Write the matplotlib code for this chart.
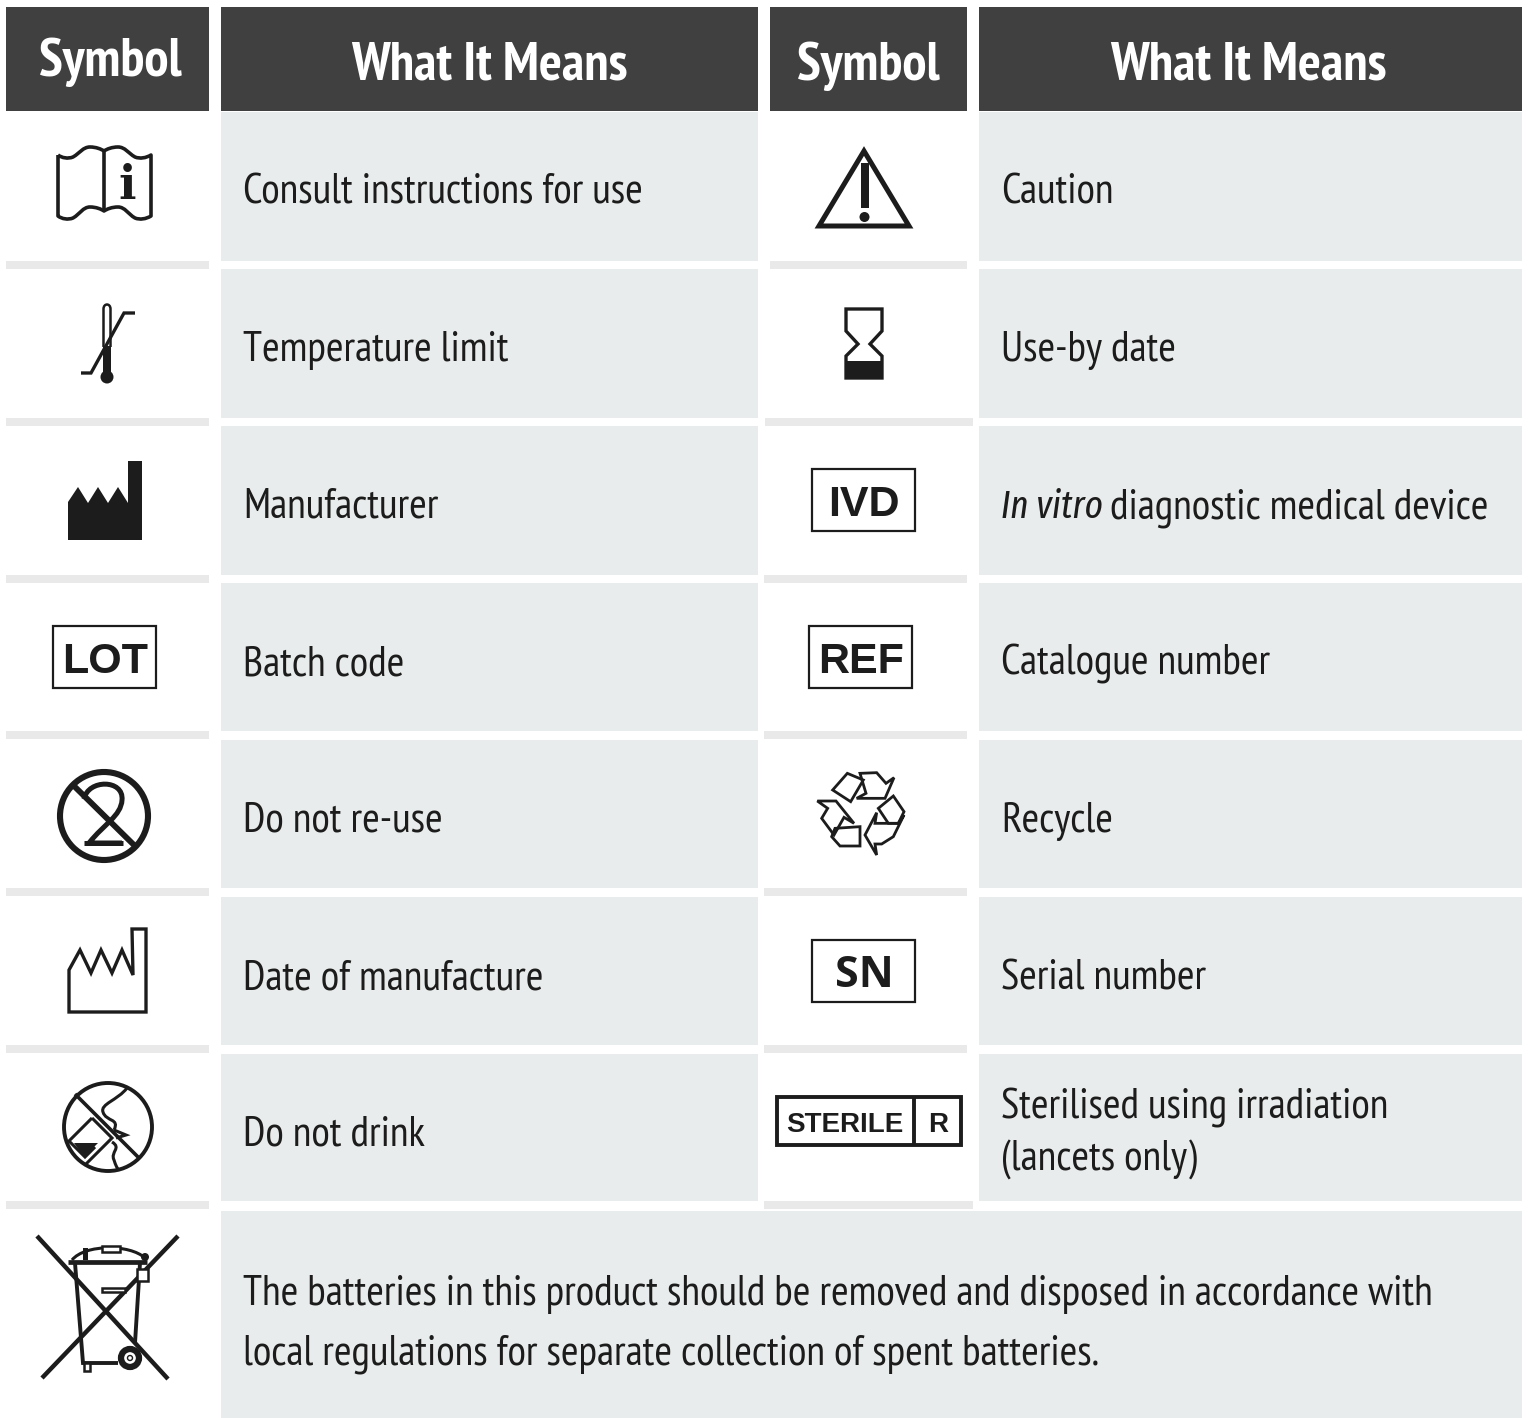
import matplotlib
matplotlib.use('Agg')
from matplotlib import pyplot as plt
from matplotlib.patches import Rectangle, Circle, Polygon, PathPatch
from matplotlib.path import Path

left_labels = ['Consult instructions for use', 'Temperature limit', 'Manufacturer', 'Batch code',
               'Do not re-use', 'Date of manufacture', 'Do not drink']
right_labels = ['Caution', 'Use-by date', None, 'Catalogue number', 'Recycle', 'Serial number', None]
headers = ['Symbol', 'What It Means', 'Symbol', 'What It Means']
row_tops = [112, 269, 426, 583, 740, 897, 1054]
row_bottoms = [261, 418, 575, 731, 888, 1045, 1201]
baselines = [204, 361, 518, 675, 832, 989, 1145]
ink = '#1c1c1c'
grey = '#e9ecec'
sep = '#e9e9e9'
narrow = ['PT Sans Narrow', 'DejaVu Sans']
italic = ['Fira Sans Extra Condensed', 'DejaVu Sans']
fs = 30.6

fig = plt.figure(figsize=(15.28, 14.18), dpi=100)
ax = fig.add_axes([0, 0, 1, 1])
ax.set_xlim(0, 1528)
ax.set_ylim(1418, 0)
ax.axis('off')


def box(x0, y0, x1, y1, color):
    ax.add_patch(Rectangle((x0, y0), x1 - x0, y1 - y0, fc=color, ec='none'))


def line(pts, lw=3.0, color=ink, closed=False, fill=None, join='miter'):
    ax.add_patch(Polygon(pts, closed=closed, fc=fill if fill else 'none', ec=color, lw=lw, joinstyle=join))


def curve(verts, codes, lw=3.0, fill='none'):
    ax.add_patch(PathPatch(Path(verts, codes), fc=fill, ec=ink, lw=lw, joinstyle='round'))


# header
box(6, 7, 209, 111, '#404040')
box(221, 7, 758, 111, '#404040')
box(770, 7, 967, 111, '#404040')
box(979, 7, 1522, 111, '#404040')
for h, x, y in zip(headers, [110, 489, 868, 1248], [76, 80, 80, 80]):
    ax.text(x, y, h, color='white', fontsize=39, fontweight='bold', family=narrow, ha='center', va='baseline')

# body cells and separators
sep_left = [770, 765, 764, 764, 764, 764, 764]
sep_right = [967, 973, 967, 967, 967, 967, 973]
for i in range(7):
    box(221, row_tops[i], 758, row_bottoms[i], grey)
    box(979, row_tops[i], 1522, row_bottoms[i], grey)
    box(6, row_bottoms[i], 209, row_bottoms[i] + 8, sep)
    box(sep_left[i], row_bottoms[i], sep_right[i], row_bottoms[i] + 8, sep)
box(221, 1211, 1522, 1418, grey)

for lab, y in zip(left_labels, baselines):
    ax.text(243, y, lab, color=ink, fontsize=fs, family=narrow, va='baseline')
for lab, y in zip(right_labels, baselines):
    if lab:
        ax.text(1001, y, lab, color=ink, fontsize=fs, family=narrow, va='baseline')
ax.text(1001, 518, 'In vitro', color=ink, fontsize=27.5, family=italic, style='italic', va='baseline')
ax.text(1110, 518, 'diagnostic medical device', color=ink, fontsize=fs, family=narrow, va='baseline')
ax.text(1001, 1118, 'Sterilised using irradiation', color=ink, fontsize=fs, family=narrow, va='baseline')
ax.text(1001, 1171, '(lancets only)', color=ink, fontsize=fs, family=narrow, va='baseline')
ax.text(243, 1305, 'The batteries in this product should be removed and disposed in accordance with',
        color=ink, fontsize=fs, family=narrow, va='baseline')
ax.text(243, 1364, 'local regulations for separate collection of spent batteries.',
        color=ink, fontsize=fs, family=narrow, va='baseline')

M, C, L = Path.MOVETO, Path.CURVE4, Path.LINETO
# book
curve([(58, 155), (62, 158), (68, 159), (73, 157), (80, 153), (83, 147), (90, 147), (96, 147), (101, 149), (104, 151),
       (107, 149), (112, 147), (118, 147), (125, 147), (128, 153), (135, 157), (140, 159), (146, 158), (151, 155),
       (151, 216),
       (146, 219), (140, 220), (135, 218), (128, 214), (125, 207), (118, 207), (112, 207), (107, 209), (104, 211),
       (101, 209), (96, 207), (90, 207), (83, 207), (80, 214), (73, 218), (68, 220), (62, 219), (58, 216), (58, 155)],
      [M] + [C] * 18 + [L] + [C] * 18 + [L], lw=2.6)
line([(104, 150), (104, 211)], lw=2.6)
ax.text(127, 199, 'i', color=ink, fontsize=33, fontweight='bold', family='DejaVu Serif', ha='center', va='baseline')

# thermometer
line([(81, 373), (91, 373), (124, 313), (135, 313)], lw=2.4)
curve([(103.5, 347), (103.5, 309), (103.5, 303), (110.5, 303), (110.5, 309), (110.5, 347)], [M, L, C, C, C, L], lw=1.8)
box(103, 346, 111, 378, ink)
ax.add_patch(Circle((107, 377), 6.5, fc=ink, ec='none'))

# factories
line([(68, 540), (68, 502), (78, 487), (88, 503), (98, 487), (108, 503), (118, 487), (128, 503), (128, 461),
      (142, 461), (142, 540)], lw=0, closed=True, fill=ink)
line([(69, 970), (80, 950), (91, 973), (101, 950), (112, 973), (122, 950), (133, 975), (132, 929), (146, 929),
      (146, 1012), (69, 1012)], lw=2.4, closed=True)

# boxed codes
for x0, y0, x1, y1, t, fsz, fam in [(53, 626, 156, 688, 'LOT', 31, 'Liberation Sans'),
                                    (809, 626, 912, 688, 'REF', 31, 'Liberation Sans'),
                                    (812, 469, 915, 531, 'IVD', 31, 'Liberation Sans'),
                                    (812, 940, 915, 1002, 'SN', 31, 'Open Sans')]:
    ax.add_patch(Rectangle((x0, y0), x1 - x0, y1 - y0, fc='none', ec=ink, lw=1.6))
    ax.text((x0 + x1) / 2 + 0.5, (y0 + y1) / 2 + 16, t, color=ink, fontsize=fsz, fontweight='bold', family=fam,
            ha='center', va='baseline')

ax.add_patch(Rectangle((777, 1097), 184, 48, fc='none', ec=ink, lw=2.8))
line([(914, 1097), (914, 1145)], lw=2.8)
ax.text(845, 1132, 'STERILE', color=ink, fontsize=20, fontweight='bold', family='Liberation Sans', ha='center', va='baseline')
ax.text(938, 1132, 'R', color=ink, fontsize=20, fontweight='bold', family='Liberation Sans', ha='center', va='baseline')

# do not re-use
ax.add_patch(Circle((104, 816), 44, fc='none', ec=ink, lw=4.4))
line([(72, 784), (135, 846)], lw=4.2)
curve([(84, 799), (88, 779), (124, 779), (122, 800), (121, 816), (104, 824), (89, 843), (122, 843)],
      [M, C, C, C, C, C, C, L], lw=3.6)
line([(84, 843), (123, 843)], lw=3.6)

# do not drink
ax.add_patch(Circle((108, 1127), 44, fc='none', ec=ink, lw=2.8))
line([(75, 1094), (139, 1158)], lw=2.6)
line([(92, 1118), (112, 1138), (86, 1164)], lw=2.2)
line([(92, 1118), (69, 1141), (85, 1157), (95, 1147)], lw=2.2)
line([(74, 1143), (98, 1143), (84, 1157)], lw=0, closed=True, fill=ink)
curve([(127, 1088), (118, 1100), (100, 1104), (103, 1112), (106, 1122), (120, 1118), (114, 1130)],
      [M, C, C, C, C, C, C], lw=2.2)
line([(114, 1130), (126, 1135), (116, 1138)], lw=2.2)
curve([(112, 1142), (122, 1148), (110, 1152), (114, 1160), (116, 1166), (116, 1166), (118, 1169)],
      [M, C, C, C, C, C, C], lw=2.2)

# bin
line([(37, 1236), (168, 1379)], lw=3.2)
line([(178, 1236), (42, 1378)], lw=3.2)
line([(68, 1262), (147, 1262)], lw=3.4)
line([(75, 1263), (83, 1363), (118, 1363)], lw=2.8)
line([(140, 1263), (135, 1343)], lw=2.8)
curve([(72, 1260), (85, 1244), (130, 1244), (145, 1258)], [M, C, C, C], lw=2.2)
ax.add_patch(Rectangle((102, 1246), 18, 6, fc='white', ec=ink, lw=1.8))
box(83, 1248, 88, 1260, ink)
ax.add_patch(Rectangle((137, 1269), 11, 12, fc='white', ec=ink, lw=1.8))
ax.add_patch(Rectangle((102, 1288), 23, 4, fc='white', ec=ink, lw=1.8))
ax.add_patch(Rectangle((84, 1363), 6, 8, fc='white', ec=ink, lw=1.8))
ax.add_patch(Circle((145, 1257), 4, fc=ink, ec='none'))
ax.add_patch(Circle((130, 1358), 9, fc='white', ec=ink, lw=4.5))
ax.add_patch(Circle((130, 1358), 2.5, fc='none', ec=ink, lw=1))

# caution
line([(864, 151), (819, 226), (909, 226)], lw=3.6, closed=True)
box(861, 163, 869, 208, ink)
ax.add_patch(Circle((864.5, 217), 5, fc=ink, ec='none'))

# hourglass
line([(846, 309), (846, 331), (858, 344), (846, 356), (846, 378), (882, 378), (882, 356), (870, 344), (882, 331),
      (882, 309)], lw=2.4, closed=True)
box(845, 361, 883, 379, ink)

z = lambda pts: [(760 + a / 3, 740 + b / 3) for a, b in pts]
for pts in [[(218, 150), (262, 100), (310, 120), (272, 185)],
            [(300, 100), (350, 98), (378, 130), (402, 113), (375, 175), (290, 175), (318, 160)],
            [(172, 183), (228, 183), (282, 250), (252, 232), (222, 285), (185, 235), (203, 205)],
            [(225, 265), (300, 260), (300, 318), (240, 318), (215, 290)],
            [(400, 168), (432, 215), (415, 250), (385, 250), (355, 205)],
            [(432, 225), (400, 290), (365, 312), (345, 312), (350, 345), (315, 285), (350, 218), (345, 250), (415, 250)]]:
    line(z(pts), lw=2.0, closed=True)

fig.savefig('out.png', dpi=100, facecolor='white')
